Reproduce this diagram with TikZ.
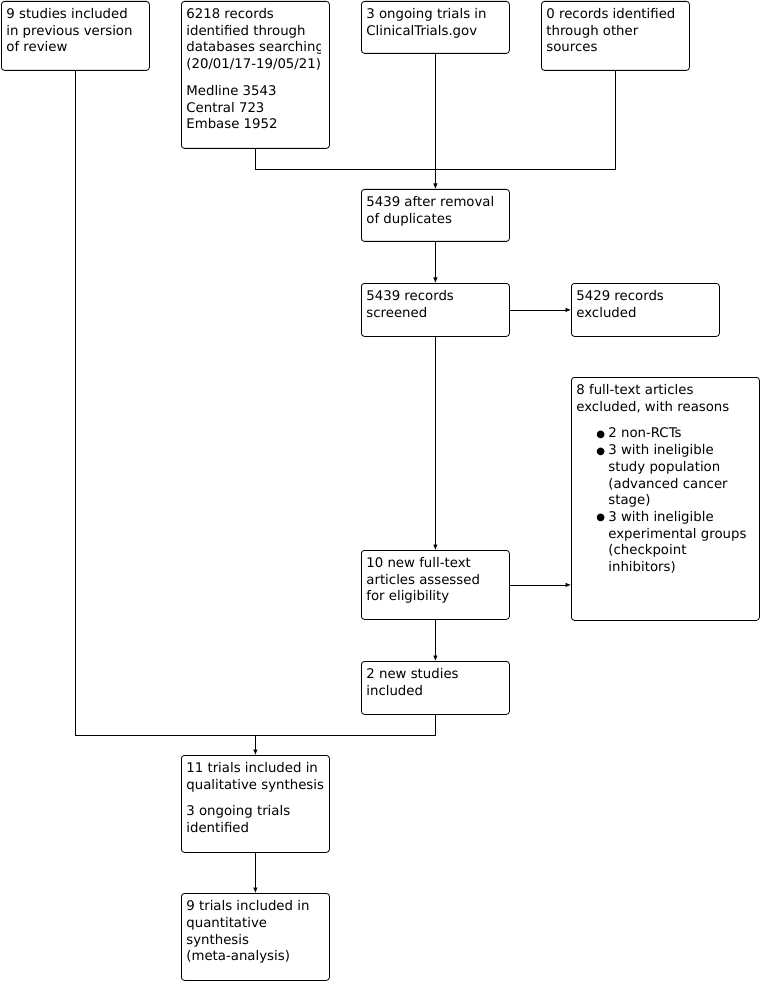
\documentclass[tikz,border=0pt]{standalone}
\usepackage{fontspec}
\setmainfont{DejaVu Sans}
\usetikzlibrary{positioning, arrows.meta}

\newcommand{\boxtext}[3]{\parbox[t][#2][t]{#1}{\raggedright\strut #3}}
\newcommand{\blockgap}{\par\vspace{10pt}\noindent\strut}
\newcommand{\reason}[1]{\par{\leftskip=32pt\noindent\hspace*{-12pt}\makebox[12pt][l]{\raisebox{0.5pt}{\fontsize{10}{10}\selectfont ●}}#1\par}}

\begin{document}
\begin{tikzpicture}[x=1pt, y=-1pt, line width=0.8pt,
    every node/.style={font=\fontsize{13.3}{16.7}\selectfont},
    flowbox/.style={draw, rounded corners=3pt, inner xsep=5pt, inner ysep=5.5pt, anchor=north west},
    arr/.style={-{Latex[length=5.5pt, width=4.5pt]}}]
    \useasboundingbox (0,0) rectangle (761,981);

    % Identification
    \node[flowbox] (prev) at (1,1) {\boxtext{138pt}{58pt}{9 studies included\\in previous version\\of review}};
    \node[flowbox, minimum width=148pt, minimum height=147pt] (db) at (181,1) {};
    \begin{scope}
        \clip (181,1) rectangle (320,148);
        \node[flowbox, draw=none] (dbtext) at (db.north west) {\boxtext{200pt}{136pt}{6218 records\\identified through\\databases searching\\(20/01/17-19/05/21)\blockgap Medline 3543\\Central 723\\Embase 1952}};
    \end{scope}
    \node[flowbox] (ongoing) at (361,1) {\boxtext{138pt}{41pt}{3 ongoing trials in\\ClinicalTrials.gov}};
    \node[flowbox] (other) at (541,1) {\boxtext{138pt}{58pt}{0 records identified\\through other\\sources}};

    % Screening
    \node[flowbox] (dup) at (361,189) {\boxtext{138pt}{41pt}{5439 after removal\\of duplicates}};
    \node[flowbox] (screen) at (361,283) {\boxtext{138pt}{42pt}{5439 records\\screened}};
    \node[flowbox] (excl) at (571,283) {\boxtext{138pt}{42pt}{5429 records\\excluded}};

    % Eligibility
    \node[flowbox] (ftexcl) at (571,377) {\boxtext{178pt}{232pt}{8 full-text articles\\excluded, with reasons\par\vspace{10pt}
        \reason{2 non-RCTs}
        \reason{3 with ineligible\\study population\\(advanced cancer\\stage)}
        \reason{3 with ineligible\\experimental groups\\(checkpoint\\inhibitors)}}};
    \node[flowbox] (fulltext) at (361,550) {\boxtext{138pt}{58pt}{10 new full-text\\articles assessed\\for eligibility}};
    \node[flowbox] (newinc) at (361,661) {\boxtext{138pt}{42pt}{2 new studies\\included}};

    % Included
    \node[flowbox] (qual) at (181,755) {\boxtext{138pt}{86pt}{11 trials included in\\qualitative synthesis\blockgap 3 ongoing trials\\identified}};
    \node[flowbox] (quant) at (181,893) {\boxtext{138pt}{76pt}{9 trials included in\\quantitative\\synthesis\\(meta-analysis)}};

    % Joins
    \coordinate (joinTop) at (db.south |- 0,169);
    \coordinate (joinBot) at (newinc.south |- 0,735);

    % Connectors
    \draw (db.south) -- (joinTop) -| (other.south);
    \draw[arr] (ongoing.south) -- (dup.north);
    \draw[arr] (dup.south) -- (screen.north);
    \draw[arr] (screen.east) -- (excl.west);
    \draw[arr] (screen.south) -- (fulltext.north);
    \draw[arr] (fulltext.east) -- (fulltext.east -| ftexcl.west);
    \draw[arr] (fulltext.south) -- (newinc.north);
    \draw (prev.south) |- (joinBot) -- (newinc.south);
    \draw[arr] (qual.north |- joinBot) -- (qual.north);
    \draw[arr] (qual.south) -- (quant.north);
\end{tikzpicture}
\end{document}
